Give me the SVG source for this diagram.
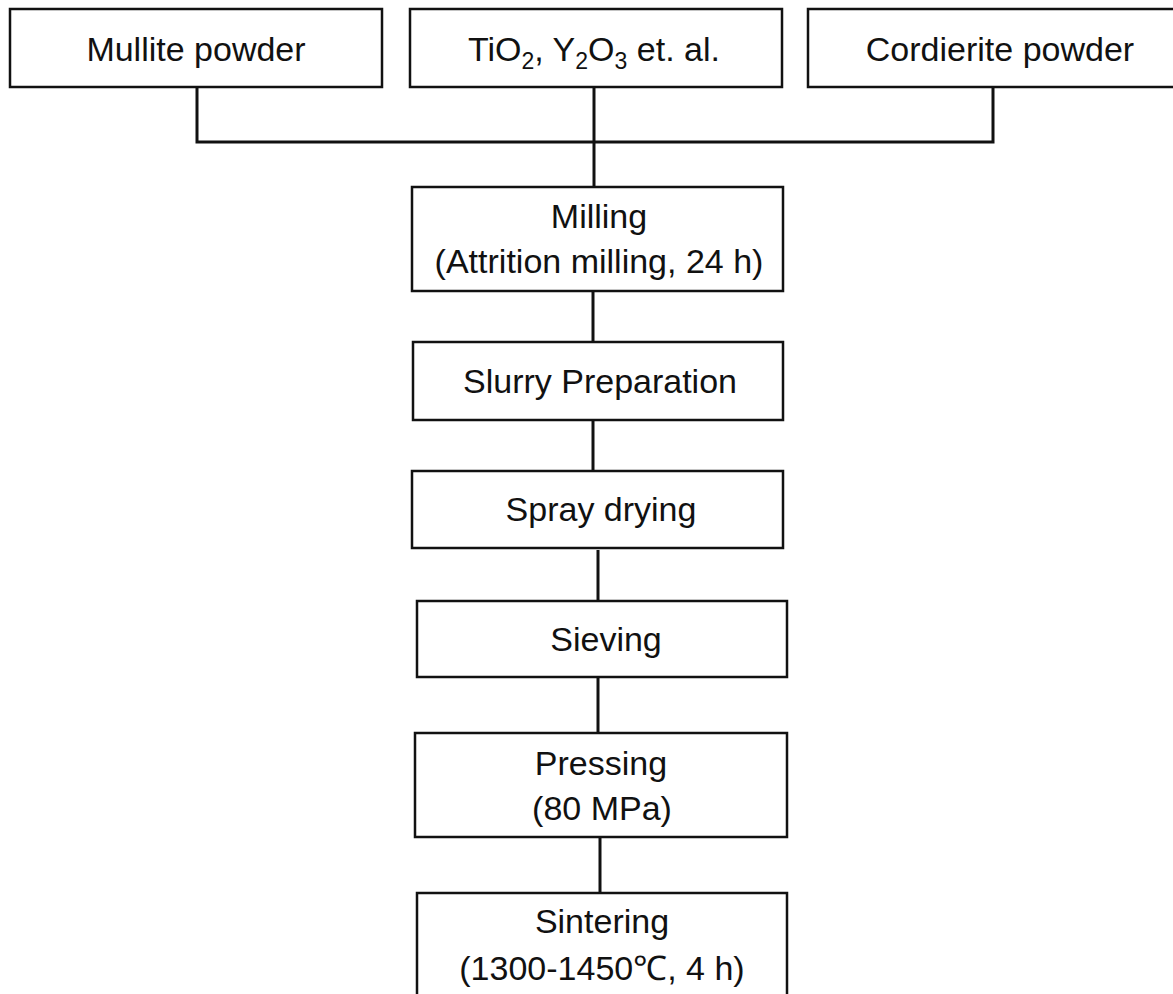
<svg xmlns="http://www.w3.org/2000/svg" width="1173" height="994" viewBox="0 0 1173 994">
<style>
.box{fill:#fff;stroke:#111;stroke-width:2.5}
.t{font-family:"Liberation Sans",Arial,sans-serif;font-size:34px;fill:#111;text-anchor:middle}
.c{fill:none;stroke:#111;stroke-width:3}
</style>
<rect width="1173" height="994" fill="#fff"/>
<g id="connectors">
<polyline class="c" points="197,87 197,142 993,142 993,87"/>
<line class="c" x1="594" y1="87" x2="594" y2="187"/>
<line class="c" x1="593" y1="291" x2="593" y2="342"/>
<line class="c" x1="593" y1="420" x2="593" y2="471"/>
<line class="c" x1="598" y1="550" x2="598" y2="601"/>
<line class="c" x1="598" y1="677" x2="598" y2="733"/>
<line class="c" x1="600" y1="838" x2="600" y2="893"/>
</g>
<g id="mullite">
<rect class="box" x="10" y="9" width="372" height="78"/>
<text class="t" x="196" y="61">Mullite powder</text>
</g>
<g id="additives">
<rect class="box" x="410" y="9" width="372" height="78"/>
<text class="t" x="594" y="61">TiO<tspan font-size="23" dy="8">2</tspan><tspan dy="-8">, Y</tspan><tspan font-size="23" dy="8">2</tspan><tspan dy="-8">O</tspan><tspan font-size="23" dy="8">3</tspan><tspan dy="-8"> et. al.</tspan></text>
</g>
<g id="cordierite">
<rect class="box" x="808" y="9" width="384" height="78"/>
<text class="t" x="1000" y="61">Cordierite powder</text>
</g>
<g id="milling">
<rect class="box" x="412" y="187" width="371" height="104"/>
<text class="t" x="599" y="228">Milling</text>
<text class="t" x="599" y="273">(Attrition milling, 24 h)</text>
</g>
<g id="slurry">
<rect class="box" x="413" y="342" width="370" height="78"/>
<text class="t" x="600" y="393">Slurry Preparation</text>
</g>
<g id="spray">
<rect class="box" x="412" y="471" width="371" height="77"/>
<text class="t" x="601" y="521">Spray drying</text>
</g>
<g id="sieving">
<rect class="box" x="417" y="601" width="370" height="76"/>
<text class="t" x="606" y="651">Sieving</text>
</g>
<g id="pressing">
<rect class="box" x="415" y="733" width="372" height="104"/>
<text class="t" x="601" y="775">Pressing</text>
<text class="t" x="602" y="820">(80 MPa)</text>
</g>
<g id="sintering">
<rect class="box" x="417" y="893" width="370" height="120"/>
<text class="t" x="602" y="933">Sintering</text>
<text class="t" x="602" y="980">(1300-1450℃, 4 h)</text>
</g>
</svg>
